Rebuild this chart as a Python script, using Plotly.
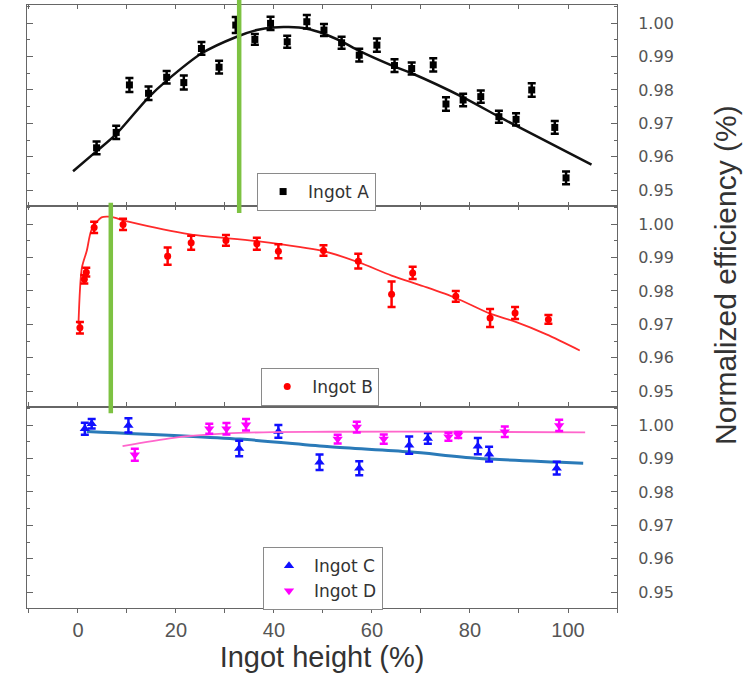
import plotly.graph_objects as go
from plotly.subplots import make_subplots

# ---------------- data ----------------
# Ingot A (top panel)
a_x = [3.8, 7.8, 10.5, 14.4, 18.1, 21.6, 25.2, 28.8, 32.2, 36.1, 39.3, 42.7, 46.7, 50.2,
       53.8, 57.4, 61.0, 64.6, 68.1, 72.5, 75.1, 78.6, 82.2, 85.9, 89.4, 92.6, 97.3, 99.6]
a_y = [0.9627, 0.9673, 0.9815, 0.9790, 0.9838, 0.9822, 0.9924, 0.9868, 0.9994, 0.9951,
       0.9999, 0.9944, 1.0004, 0.9979, 0.9941, 0.9904, 0.9934, 0.9873, 0.9864, 0.9875,
       0.9758, 0.9770, 0.9780, 0.9720, 0.9712, 0.9800, 0.9688, 0.9537]
a_err = [0.0019, 0.0020, 0.0021, 0.0020, 0.0019, 0.0021, 0.0019, 0.0019, 0.0024, 0.0016,
         0.0020, 0.0018, 0.0020, 0.0018, 0.0018, 0.0019, 0.0020, 0.0019, 0.0018, 0.0020,
         0.0020, 0.0019, 0.0018, 0.0018, 0.0018, 0.0020, 0.0019, 0.0019]
a_fit_x = [-1.0, 3.8, 7.8, 14.4, 18.1, 25.2, 32.4, 36.5, 39.9, 43.0, 46.7, 50.2, 53.8,
           57.4, 64.6, 68.1, 78.6, 85.9, 89.4, 104.8]
a_fit_y = [0.9557, 0.9617, 0.9668, 0.9778, 0.9828, 0.9909, 0.9959, 0.9979, 0.9987, 0.9988,
           0.9983, 0.9968, 0.9945, 0.9917, 0.9870, 0.9850, 0.9778, 0.9720, 0.9693, 0.9577]

# Ingot B (middle panel)
b_x = [0.4, 1.3, 1.7, 3.3, 9.2, 18.3, 23.1, 30.2, 36.5, 40.9, 50.1, 57.2, 64.0, 68.3,
       77.1, 84.1, 89.2, 96.0]
b_y = [0.9690, 0.9835, 0.9856, 0.9990, 0.9999, 0.9904, 0.9944, 0.9951, 0.9941, 0.9919,
       0.9921, 0.9889, 0.9790, 0.9854, 0.9784, 0.9719, 0.9734, 0.9715]
b_err = [0.0017, 0.0013, 0.0013, 0.0017, 0.0017, 0.0026, 0.0021, 0.0016, 0.0018, 0.0021,
         0.0016, 0.0022, 0.0038, 0.0018, 0.0016, 0.0027, 0.0018, 0.0013]
b_fit_x = [0.1, 0.8, 1.8, 2.8, 4.8, 6.5, 10.3, 22.9, 36.5, 50.1, 57.2, 64.0, 70.5, 77.1,
           84.1, 89.2, 95.6, 102.4]
b_fit_y = [0.9700, 0.9869, 0.9920, 0.9984, 1.0020, 1.0022, 1.0007, 0.9969, 0.9949, 0.9919,
           0.9886, 0.9846, 0.9814, 0.9779, 0.9732, 0.9708, 0.9670, 0.9622]

# Ingot C and D (bottom panel)
c_x = [1.4, 2.8, 10.3, 32.9, 40.9, 49.3, 57.4, 67.6, 71.4, 81.6, 83.9, 97.7]
c_y = [0.9989, 1.0004, 0.9999, 0.9930, 0.9981, 0.9889, 0.9871, 0.9940, 0.9960, 0.9937,
       0.9913, 0.9871]
c_err = [0.0018, 0.0014, 0.0021, 0.0023, 0.0019, 0.0023, 0.0021, 0.0026, 0.0016, 0.0024,
         0.0022, 0.0019]
c_fit_x = [1.8, 33.1, 51.4, 67.6, 81.3, 103.1]
c_fit_y = [0.9981, 0.9958, 0.9935, 0.9920, 0.9901, 0.9886]

d_x = [11.6, 26.8, 30.3, 34.3, 53.0, 56.9, 62.4, 75.6, 77.6, 87.1, 98.2]
d_y = [0.9911, 0.9989, 0.9989, 1.0001, 0.9958, 0.9994, 0.9958, 0.9965, 0.9970, 0.9980,
       0.9999]
d_err = [0.0018, 0.0015, 0.0017, 0.0017, 0.0013, 0.0016, 0.0014, 0.0012, 0.0009, 0.0016,
         0.0017]
d_fit_x = [9.1, 19.5, 30.3, 39.9, 51.4, 78.6, 103.5]
d_fit_y = [0.9937, 0.9962, 0.9975, 0.9979, 0.9980, 0.9980, 0.9978]

# green marker lines (x positions), top panel and middle panel
green_x = [32.9, 6.7]

y_ticks = [0.95, 0.96, 0.97, 0.98, 0.99, 1.00]
x_ticks = [0, 20, 40, 60, 80, 100]

# ---------------- figure ----------------
fig = make_subplots(rows=3, cols=1, shared_xaxes=True, vertical_spacing=0)

AX = "#666666"
TXT = "#333333"


def add_series(row, fx, fy, fcolor, fwidth, x, y, err, mcolor, symbol, msize, name, legend):
    fig.add_trace(go.Scatter(x=fx, y=fy, mode="lines",
                             line=dict(color=fcolor, width=fwidth, shape="spline", smoothing=0.8),
                             showlegend=False, hoverinfo="skip"), row=row, col=1)
    fig.add_trace(go.Scatter(x=x, y=y, mode="markers", name=name, legend=legend,
                             marker=dict(color=mcolor, symbol=symbol, size=msize, line=dict(width=0)),
                             error_y=dict(type="data", array=err, visible=True, color=mcolor,
                                          thickness=2.5, width=4)),
                  row=row, col=1)


add_series(1, a_fit_x, a_fit_y, "#111111", 2.5, a_x, a_y, a_err, "#000000", "square", 7, "Ingot A", "legend")
add_series(2, b_fit_x, b_fit_y, "#ff2a2a", 1.8, b_x, b_y, b_err, "#ff0000", "circle", 7, "Ingot B", "legend2")
add_series(3, c_fit_x, c_fit_y, "#2a7ab8", 3, c_x, c_y, c_err, "#1010ff", "triangle-up", 9, "Ingot C", "legend3")
add_series(3, d_fit_x, d_fit_y, "#ff66cc", 1.8, d_x, d_y, d_err, "#ff00ff", "triangle-down", 9, "Ingot D", "legend3")

for r in (1, 2, 3):
    bottom = r == 3
    fig.update_xaxes(range=[-10.4, 110], showline=True, linecolor=AX, linewidth=1, mirror="ticks",
                     ticks="outside" if bottom else "inside", ticklen=4, tickwidth=1.2, tickcolor=AX,
                     tickvals=x_ticks, showgrid=False, zeroline=False,
                     minor=dict(dtick=10, tick0=0, ticks="outside" if bottom else "inside", ticklen=4,
                                tickcolor=AX, tickwidth=1.2),
                     showticklabels=bottom, row=r, col=1)
    fig.update_yaxes(range=[0.9453, 1.0054], side="right", showline=True, linecolor=AX, linewidth=1,
                     mirror="ticks", ticks="inside", ticklen=6, tickwidth=1.2, tickcolor=AX,
                     tickvals=y_ticks, tickformat=".2f", showgrid=False, zeroline=False,
                     ticklabelstandoff=17,
                     tickfont=dict(family="DejaVu Sans", size=16, color="#555555"),
                     minor=dict(dtick=0.005, tick0=0.95, ticks="inside", ticklen=3, tickcolor=AX,
                                tickwidth=1),
                     row=r, col=1)

fig.update_xaxes(tickfont=dict(family="Liberation Sans", size=20, color="#555555"),
                 title=dict(text="Ingot height (%)", font=dict(family="Liberation Sans", size=29, color=TXT),
                            standoff=0),
                 row=3, col=1)

# green vertical marker lines
fig.add_shape(type="line", xref="x", yref="paper", x0=green_x[0], x1=green_x[0], y0=0.655, y1=1.01,
              line=dict(color="#7dc242", width=4.5))
fig.add_shape(type="line", xref="x", yref="paper", x0=green_x[1], x1=green_x[1], y0=0.323, y1=0.672,
              line=dict(color="#7dc242", width=4.5))

fig.add_annotation(text="Normalized efficiency (%)", xref="paper", yref="paper", x=1.215, y=0.553,
                   textangle=-90, showarrow=False,
                   font=dict(family="Liberation Sans", size=30, color=TXT))

leg_common = dict(bgcolor="white", bordercolor="#8a8a8a", borderwidth=1, xanchor="left", yanchor="top",
                  font=dict(family="DejaVu Sans", size=17, color=TXT), itemwidth=40, tracegroupgap=0)

fig.update_layout(
    width=753, height=682,
    margin=dict(l=27, r=136, t=5, b=74),
    paper_bgcolor="white", plot_bgcolor="white",
    legend=dict(x=0.39, y=0.7214, **leg_common),
    legend2=dict(x=0.397, y=0.398, **leg_common),
    legend3=dict(x=0.40, y=0.101, **leg_common),
)

fig.write_html("out.html", config={"displayModeBar": False},
               post_script="document.body.style.margin='0';")
